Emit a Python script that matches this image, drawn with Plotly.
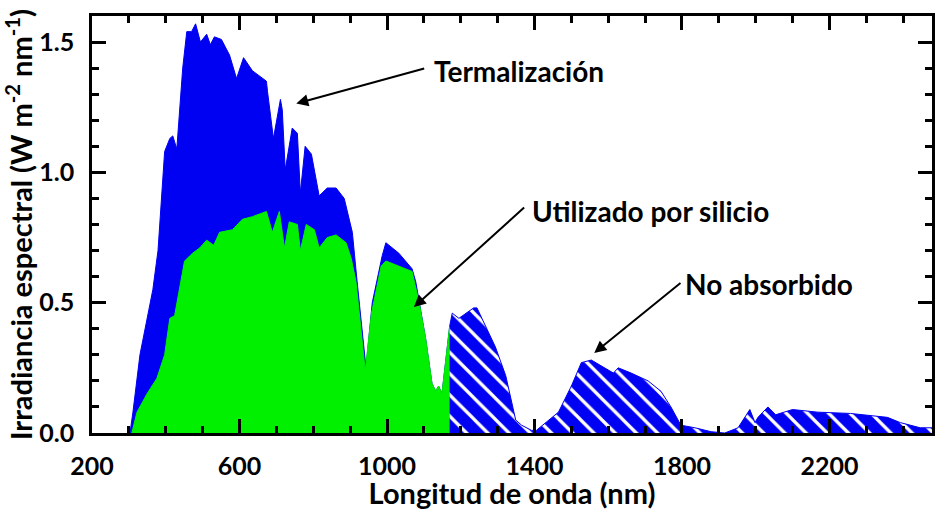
import plotly.graph_objects as go

# Solar spectral irradiance (AM1.5), wavelength in nm and irradiance in W m^-2 nm^-1
wl_total = [303, 311, 330, 349, 365, 379, 397, 411, 419, 430, 446, 457, 470, 481,
            494, 511, 521, 532, 551, 573, 592, 611, 635, 673, 676, 692, 711, 716,
            724, 743, 757, 765, 778, 795, 816, 838, 862, 884, 906, 919, 943, 960,
            987, 997, 1032, 1068, 1078, 1105, 1122, 1132, 1140, 1149, 1162, 1170,
            1177, 1195, 1235, 1244, 1294, 1322, 1349, 1365, 1392, 1405, 1430, 1465,
            1500, 1527, 1554, 1592, 1614, 1627, 1662, 1708, 1743, 1770, 1797, 1835,
            1879, 1916, 1952, 1984, 1998, 2006, 2033, 2054, 2100, 2168, 2257, 2357,
            2392, 2446, 2478]
irr_total = [0.0, 0.08, 0.30, 0.43, 0.55, 0.70, 1.08, 1.13, 1.14, 1.09, 1.40, 1.54,
             1.54, 1.57, 1.50, 1.53, 1.49, 1.52, 1.51, 1.45, 1.36, 1.44, 1.39, 1.35,
             1.31, 1.13, 1.28, 1.24, 1.01, 1.17, 1.15, 0.92, 1.10, 1.07, 0.91, 0.94,
             0.94, 0.90, 0.77, 0.58, 0.25, 0.50, 0.68, 0.73, 0.69, 0.63, 0.58, 0.36,
             0.19, 0.16, 0.18, 0.15, 0.31, 0.41, 0.46, 0.44, 0.48, 0.48, 0.33, 0.22,
             0.05, 0.03, 0.01, 0.01, 0.04, 0.08, 0.18, 0.27, 0.28, 0.25, 0.23, 0.25,
             0.23, 0.20, 0.16, 0.10, 0.03, 0.02, 0.005, 0.0, 0.02, 0.09, 0.04, 0.06,
             0.10, 0.07, 0.09, 0.08, 0.075, 0.06, 0.04, 0.02, 0.02]

# Portion converted by a silicon cell (photon energy above the gap, limited to Eg)
wl_si = [308, 322, 349, 376, 397, 411, 424, 438, 451, 473, 492, 511, 530, 546, 581,
         608, 635, 673, 689, 708, 722, 735, 757, 765, 781, 803, 816, 838, 862, 889,
         903, 916, 933, 941, 958, 984, 997, 1032, 1068, 1087, 1105, 1122, 1132, 1140,
         1149, 1162, 1170]
irr_si = [0.0, 0.08, 0.15, 0.21, 0.30, 0.44, 0.45, 0.56, 0.66, 0.69, 0.71, 0.74, 0.72,
          0.77, 0.78, 0.82, 0.83, 0.85, 0.77, 0.85, 0.71, 0.81, 0.80, 0.70, 0.80, 0.78,
          0.71, 0.75, 0.76, 0.73, 0.67, 0.58, 0.34, 0.24, 0.46, 0.64, 0.66, 0.64, 0.62,
          0.50, 0.36, 0.19, 0.16, 0.18, 0.15, 0.31, 0.41]

# Silicon band-gap wavelength (nm)
gap_nm = 1170

BLUE = "#0000f2"
GREEN = "#00f000"
FONT = "Lato"

above_x = [w for w in wl_total if w <= gap_nm]
above_y = [v for w, v in zip(wl_total, irr_total) if w <= gap_nm]
below_x = [w for w in wl_total if w >= gap_nm]
below_y = [v for w, v in zip(wl_total, irr_total) if w >= gap_nm]

fig = go.Figure()

fig.add_trace(go.Scatter(
    x=above_x, y=above_y, mode="lines", fill="tozeroy",
    line=dict(color=BLUE, width=1), fillcolor=BLUE, hoverinfo="skip",
))
fig.add_trace(go.Scatter(
    x=wl_si, y=irr_si, mode="lines", fill="tozeroy",
    line=dict(color=GREEN, width=1), fillcolor=GREEN, hoverinfo="skip",
))
fig.add_trace(go.Scatter(
    x=below_x, y=below_y, mode="lines", fill="tozeroy",
    line=dict(color=BLUE, width=1),
    fillpattern=dict(shape="\\", fgcolor="white", bgcolor=BLUE,
                     size=15, solidity=0.22, fillmode="replace"),
    hoverinfo="skip",
))

label_font = dict(family=FONT, size=28, color="black", weight="bold")
title_font = dict(family=FONT, size=29, color="black", weight="bold")

# (label, text position, arrow tail, arrow head)
notes = [
    ("Termalización", (1122, 1.39), (1105, 1.40), (754, 1.264)),
    ("Utilizado por silicio", (1388, 0.85), (1376, 0.87), (1073, 0.483)),
    ("No absorbido", (1803, 0.57), (1800, 0.58), (1562, 0.307)),
]
for text, (tx, ty), (ax, ay), (hx, hy) in notes:
    fig.add_annotation(x=tx, y=ty, xref="x", yref="y", text=text, showarrow=False,
                       xanchor="left", yanchor="middle", font=label_font)
    fig.add_annotation(x=hx, y=hy, ax=ax, ay=ay, xref="x", yref="y",
                       axref="x", ayref="y", text="", showarrow=True,
                       arrowhead=2, arrowsize=1.2, arrowwidth=2, arrowcolor="black")

tick_font = dict(family=FONT, size=25, color="black", weight="bold")
axis_common = dict(
    showline=True, linewidth=2.5, linecolor="black", mirror="ticks",
    ticks="inside", ticklen=14, tickwidth=3, tickcolor="black",
    showgrid=False, zeroline=False, tickfont=tick_font,
)

fig.update_xaxes(
    range=[200, 2478], tick0=200, dtick=400,
    minor=dict(dtick=100, ticks="inside", ticklen=7, tickwidth=2.5, tickcolor="black"),
    ticklabelstandoff=9,
    title=dict(text="Longitud de onda (nm)", font=title_font, standoff=0),
    **axis_common,
)
fig.update_yaxes(
    range=[0, 1.6], tick0=0, dtick=0.5, tickformat=".1f",
    minor=dict(dtick=0.1, ticks="inside", ticklen=7, tickwidth=2.5, tickcolor="black"),
    ticklabelstandoff=10,
    title=dict(text="Irradiancia espectral (W m<sup>-2</sup> nm<sup>-1</sup>)",
               font=title_font, standoff=4),
    **axis_common,
)

fig.update_layout(
    width=935, height=510,
    margin=dict(l=92, r=0, t=16, b=77),
    paper_bgcolor="white", plot_bgcolor="white",
    showlegend=False,
)

fig.write_html("out.html")
